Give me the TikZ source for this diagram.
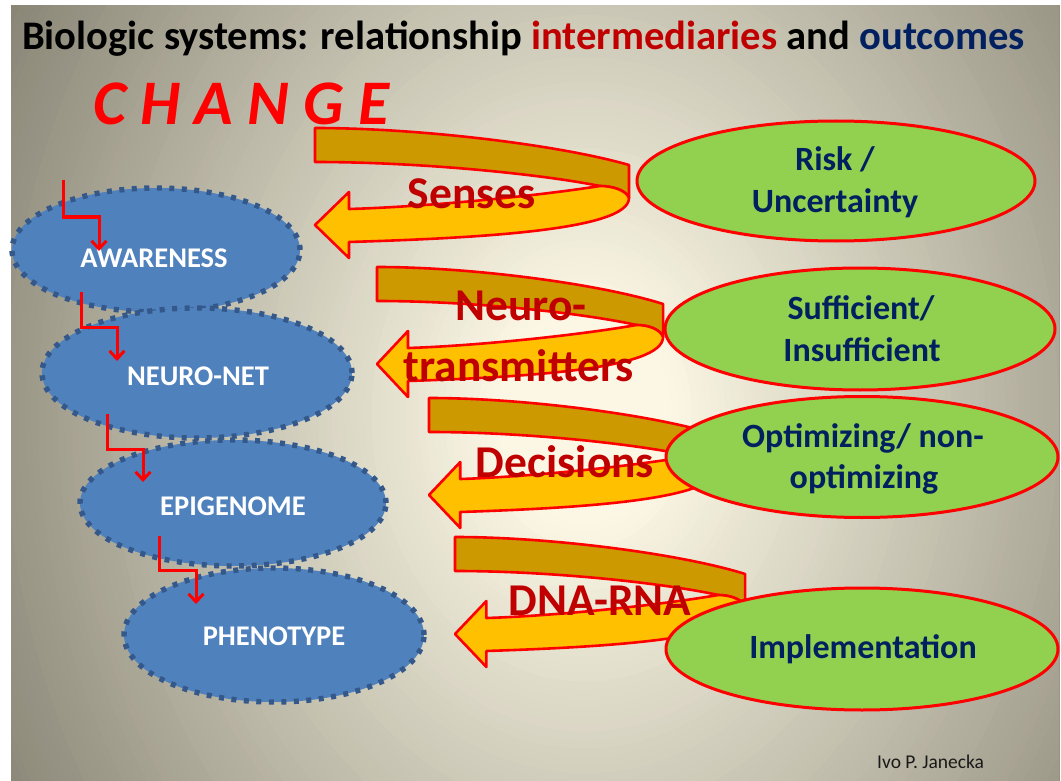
\documentclass[tikz,border=0pt]{standalone}
\usepackage{fontspec}
\setmainfont{Carlito}
\usetikzlibrary{arrows.meta,shapes.geometric}
\definecolor{bgin}{RGB}{251,247,228}
\definecolor{bgout}{RGB}{135,131,116}
\definecolor{bfill}{HTML}{4F81BD}
\definecolor{bdot}{HTML}{34588A}
\definecolor{gfill}{HTML}{92D050}
\definecolor{navy}{HTML}{002060}
\definecolor{darkred}{HTML}{C00000}
\definecolor{backgold}{HTML}{CC9900}
\definecolor{frontgold}{HTML}{FFC000}
\tikzset{
  blueell/.style={ellipse, fill=bfill, draw=bdot, line width=5.4pt, dash pattern=on 5pt off 7.5pt, inner sep=0pt},
  greenell/.style={ellipse, fill=gfill, draw=red, line width=3pt, inner sep=0pt},
  bluetxt/.style={anchor=base, inner sep=0pt, text=white, font=\fontsize{28.5}{34}\selectfont\bfseries},
  greentxt/.style={anchor=base, inner sep=0pt, text=navy, font=\fontsize{34}{41}\selectfont\bfseries},
  lbl/.style={anchor=base, inner sep=0pt, text=darkred, font=\fontsize{45.5}{54}\selectfont\bfseries},
  stair/.style={draw=red, line width=3pt, -{Straight Barb[length=8pt,width=15pt]}},
  backband/.style={fill=backgold, draw=red, line width=2.6pt, line join=round},
  frontband/.style={fill=frontgold, draw=red, line width=2.6pt, line join=round},
  pics/uarrow/.style={code={
    \filldraw[backband] (0,0) .. controls (105,0) and (245,17) .. (314,37) -- (314,70)
      .. controls (311,62) and (297,58) .. (285,58) .. controls (225,46) and (105,34) .. (0,34) -- cycle;
    \filldraw[frontband] (285,58) .. controls (215,69) and (105,79) .. (34,81) -- (34,64) -- (0,97)
      -- (34,130) -- (34,114) .. controls (165,110) and (314,102) .. (314,70)
      .. controls (311,62) and (297,58) .. (285,58) -- cycle;
  }}
}
\begin{document}
\begin{tikzpicture}[x=1pt,y=-1pt]
\useasboundingbox (0,0) rectangle (1061,781);
\fill[white] (0,0) rectangle (1061,781);
\begin{scope}
  \clip (11,6) rectangle (1059,781);
  \foreach \k in {120,119,...,1} {
    \pgfmathsetmacro\rr{\k/120}
    \pgfmathtruncatemacro\tt{100*max(0,min(1,(\rr-0.004-0.1)/0.74))}
    \fill[bgout!\tt!bgin] (585,415) ellipse [x radius=\rr*800, y radius=\rr*1000];
  }
\end{scope}

% title
\node[anchor=base west, inner sep=0pt, font=\fontsize{40.6}{48}\selectfont\bfseries] (title) at (22,50)
  {Biologic systems: relationship \textcolor{darkred}{intermediaries} and \textcolor{navy}{outcomes}};
\node[anchor=base west, inner sep=0pt, text=red, font=\fontsize{63.5}{76}\selectfont\bfseries\itshape] (change) at (93,125) {C H A N G E};

% blue ellipses
\node[blueell, minimum width=288pt, minimum height=124pt] (aware) at (156,250) {};
\node[blueell, minimum width=310pt, minimum height=130pt] (neuronet) at (197,373) {};
\node[blueell, minimum width=306pt, minimum height=126pt] (epi) at (233,503) {};
\node[blueell, minimum width=300pt, minimum height=134pt] (pheno) at (274,635) {};
\node[bluetxt] (awaret) at (154,267) {AWARENESS};
\node[bluetxt] (neuronett) at (198,385) {NEURO-NET};
\node[bluetxt] (epit) at (233,515) {EPIGENOME};
\node[bluetxt] (phenot) at (274,645) {PHENOTYPE};

% staircase arrows
\coordinate (s1a) at (63,180); \coordinate (s1m) at (81,217); \coordinate (s1b) at (99,251);
\coordinate (s2a) at (81,292); \coordinate (s2m) at (99,327); \coordinate (s2b) at (117,361);
\coordinate (s3a) at (107,414); \coordinate (s3m) at (125,449); \coordinate (s3b) at (143,482);
\coordinate (s4a) at (159,536); \coordinate (s4m) at (177,570); \coordinate (s4b) at (196,604);
\draw[stair] (s1a) |- (s1m) -| (s1b);
\draw[stair] (s2a) |- (s2m) -| (s2b);
\draw[stair] (s3a) |- (s3m) -| (s3b);
\draw[stair] (s4a) |- (s4m) -| (s4b);

% curved arrows
\pic at (315,128) {uarrow};
\pic[xscale=0.911] at (377,267) {uarrow};
\pic[xscale=0.92] at (429,398) {uarrow};
\pic[xscale=0.924] at (455,537) {uarrow};

% green ellipses
\node[greenell, minimum width=398pt, minimum height=120pt] (risk) at (836,181) {};
\node[greenell, minimum width=390pt, minimum height=122pt] (suff) at (860,329) {};
\node[greenell, minimum width=392pt, minimum height=121pt] (opt) at (862,457) {};
\node[greenell, minimum width=392pt, minimum height=122pt] (impl) at (862,649) {};
\node[greentxt] (riskt1) at (835,171) {Risk /};
\node[greentxt] (riskt2) at (835,213) {Uncertainty};
\node[greentxt] (sufft1) at (861,319) {Sufficient/};
\node[greentxt] (sufft2) at (862,361) {Insufficient};
\node[greentxt] (optt1) at (863,447) {Optimizing/ non-};
\node[greentxt] (optt2) at (864,488) {optimizing};
\node[greentxt] (implt) at (863,658) {Implementation};

% arrow labels
\node[lbl] (senses) at (472,208) {Senses};
\node[lbl] (neuro) at (521,320) {Neuro-};
\node[lbl] (transm) at (519,381) {transmitters};
\node[lbl] (decis) at (565,477) {Decisions};
\node[lbl] (dnarna) at (600,615) {DNA-RNA};

\node[anchor=base west, inner sep=0pt, text=black!90, font=\fontsize{19.5}{23}\selectfont] (author) at (877,768) {Ivo P. Janecka};
\end{tikzpicture}
\end{document}
